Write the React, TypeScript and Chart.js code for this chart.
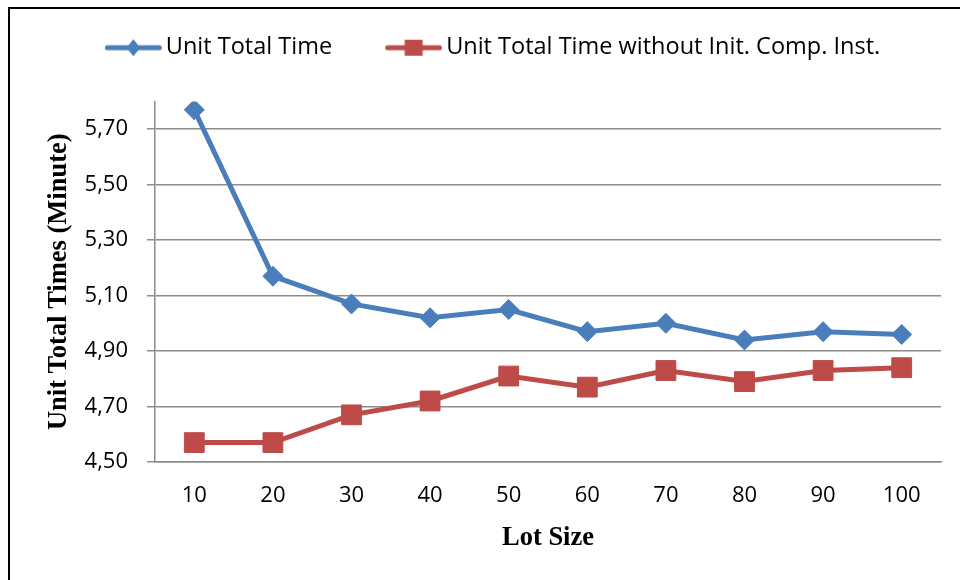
import React, { useEffect, useRef } from "react";
import { Chart, registerables } from "chart.js";

Chart.register(...registerables);

// Lot sizes on the x axis
const LOT_SIZES = ["10", "20", "30", "40", "50", "60", "70", "80", "90", "100"];
// Unit total time per lot size (minutes)
const UNIT_TOTAL_TIME = [5.77, 5.17, 5.07, 5.02, 5.05, 4.97, 5.0, 4.94, 4.97, 4.96];
// Unit total time without initial component installation (minutes)
const UNIT_TOTAL_TIME_NO_INIT = [4.57, 4.57, 4.67, 4.72, 4.81, 4.77, 4.83, 4.79, 4.83, 4.84];
// Labelled ticks on the value axis
const Y_TICKS = [4.5, 4.7, 4.9, 5.1, 5.3, 5.5, 5.7];
const Y_MIN = 4.5;
const Y_MAX = 5.8;

const BLUE = "#4A7EBB";
const RED = "#BE4B48";
const GRID = "#8c8c8c";
const LABEL_FONT = "'Open Sans'";
const TITLE_FONT = "'Liberation Serif', 'Times New Roman', serif";
const TITLE_SIZE = 26.5;

// Legend geometry
const LEGEND_FONT = 23.5;
const SWATCH_W = 57; // visible line length of a legend swatch
const SWATCH_LEAD = 43; // space in the legend box before the swatch
const SWATCH_TEXT_GAP = 4;
const LEGEND_PAD = 10;
const LEGEND_BOX_W = SWATCH_LEAD + SWATCH_W + SWATCH_TEXT_GAP - LEGEND_FONT / 2;
const SWATCH_CANVAS_W = Math.ceil(2 * (SWATCH_LEAD + SWATCH_W - LEGEND_BOX_W / 2));
const SWATCH_OFFSET = SWATCH_LEAD - LEGEND_BOX_W / 2 + SWATCH_CANVAS_W / 2;

// Legend swatch: a short thick line with the series marker on top
function makeSwatch(color: string, marker: "diamond" | "square"): HTMLCanvasElement {
  const c = document.createElement("canvas");
  c.width = SWATCH_CANVAS_W;
  c.height = 22;
  const ctx = c.getContext("2d")!;
  const x0 = SWATCH_OFFSET;
  const cx = x0 + SWATCH_W / 2;
  const cy = 11;
  ctx.strokeStyle = color;
  ctx.lineWidth = 5;
  ctx.lineCap = "round";
  ctx.beginPath();
  ctx.moveTo(x0 + 2.5, cy);
  ctx.lineTo(x0 + SWATCH_W - 2.5, cy);
  ctx.stroke();
  ctx.fillStyle = color;
  ctx.beginPath();
  if (marker === "diamond") {
    ctx.moveTo(cx, cy - 8.5);
    ctx.lineTo(cx + 7, cy);
    ctx.lineTo(cx, cy + 8.5);
    ctx.lineTo(cx - 7, cy);
    ctx.closePath();
  } else {
    ctx.rect(cx - 9, cy - 8, 18, 16);
  }
  ctx.fill();
  return c;
}

// Extra room between the legend row and the plot
const legendSpacer = {
  id: "legendSpacer",
  beforeInit(chart: any) {
    const legend = chart.legend;
    if (!legend) return;
    const fit = legend.fit;
    legend.fit = function () {
      fit.call(this);
      this.height += 32;
    };
  },
};

export default function App() {
  const canvasRef = useRef<HTMLCanvasElement | null>(null);

  useEffect(() => {
    if (!canvasRef.current) return;
    const swatches = [makeSwatch(BLUE, "diamond"), makeSwatch(RED, "square")];

    const chart = new Chart(canvasRef.current, {
      type: "line",
      data: {
        labels: LOT_SIZES,
        datasets: [
          {
            label: "Unit Total Time",
            data: UNIT_TOTAL_TIME,
            borderColor: BLUE,
            backgroundColor: BLUE,
            borderWidth: 5,
            pointStyle: "rectRot",
            pointRadius: 10,
            pointBorderWidth: 1,
            pointBorderColor: BLUE,
            tension: 0,
          },
          {
            label: "Unit Total Time without Init. Comp. Inst.",
            data: UNIT_TOTAL_TIME_NO_INIT,
            borderColor: RED,
            backgroundColor: RED,
            borderWidth: 5,
            pointStyle: "rect",
            pointRadius: 14,
            pointBorderWidth: 1,
            pointBorderColor: RED,
            tension: 0,
          },
        ],
      },
      plugins: [legendSpacer],
      options: {
        animation: false,
        responsive: false,
        devicePixelRatio: 1,
        layout: { padding: { left: 1, right: 19, top: 26, bottom: 26 } },
        plugins: {
          tooltip: { enabled: false },
          legend: {
            position: "top",
            align: "center",
            labels: {
              usePointStyle: true,
              pointStyleWidth: LEGEND_BOX_W,
              padding: LEGEND_PAD,
              color: "#000",
              font: { family: LABEL_FONT, size: LEGEND_FONT },
              generateLabels: (ch) =>
                ch.data.datasets.map((ds, i) => ({
                  text: ds.label as string,
                  pointStyle: swatches[i],
                  datasetIndex: i,
                  fillStyle: "transparent",
                  strokeStyle: "transparent",
                  lineWidth: 0,
                  hidden: false,
                })),
            },
          },
        },
        scales: {
          x: {
            offset: true,
            afterFit: (scale) => {
              scale.height = 92;
            },
            grid: { display: false, drawTicks: false },
            border: { display: true, color: GRID, width: 1.5 },
            ticks: {
              color: "#000",
              padding: 21,
              font: { family: LABEL_FONT, size: 22 },
              maxRotation: 0,
            },
            title: {
              display: true,
              text: "Lot Size",
              color: "#000",
              font: { family: TITLE_FONT, size: TITLE_SIZE, weight: "bold" },
              padding: { top: 8, bottom: 0 },
            },
          },
          y: {
            min: Y_MIN,
            max: Y_MAX,
            afterBuildTicks: (scale) => {
              scale.ticks = Y_TICKS.map((v) => ({ value: v }));
            },
            afterFit: (scale) => {
              scale.width = 154;
            },
            grid: {
              color: GRID,
              lineWidth: 1.5,
              drawTicks: true,
              tickLength: 8,
            },
            border: { display: true, color: GRID, width: 1.5 },
            ticks: {
              color: "#000",
              padding: 19,
              font: { family: LABEL_FONT, size: 22 },
              callback: (v) => Number(v).toFixed(2).replace(".", ","),
            },
            title: {
              display: true,
              text: "Unit Total Times (Minute)",
              color: "#000",
              font: { family: TITLE_FONT, size: TITLE_SIZE, weight: "bold" },
              padding: { top: 42, bottom: 0 },
            },
          },
        },
      },
    });
    return () => chart.destroy();
  }, []);

  return (
    <div style={{ position: "fixed", left: 0, top: 0, width: 960, height: 580, background: "#fff" }}>
      <div
        style={{
          position: "absolute",
          left: 8,
          top: 7,
          width: 960,
          height: 580,
          borderTop: "2px solid #000",
          borderLeft: "2px solid #000",
        }}
      />
      <canvas
        ref={canvasRef}
        width={960}
        height={580}
        style={{ position: "absolute", left: 0, top: 0, width: 960, height: 580 }}
      />
    </div>
  );
}
